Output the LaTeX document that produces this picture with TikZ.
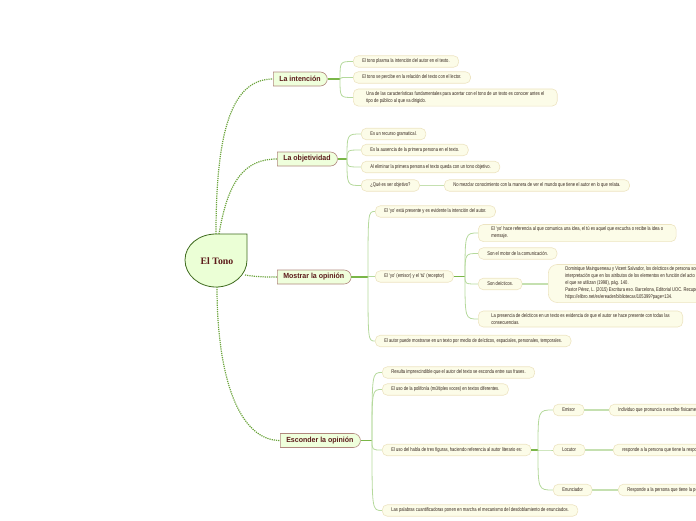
\documentclass[tikz,border=0pt]{standalone}
\usepackage{fontspec}
\usetikzlibrary{shapes.misc}
\setmainfont{Liberation Serif}
\newfontfamily\leaffont[FakeStretch=0.76]{Liberation Sans}
\newfontfamily\mainfont[FakeStretch=0.95]{Liberation Sans}
\definecolor{leaffill}{HTML}{FCFCE8}
\definecolor{leafline}{HTML}{EDE4C2}
\definecolor{leaftext}{HTML}{33241C}
\definecolor{mainfill}{HTML}{EFFFDC}
\definecolor{mainline}{HTML}{B0887E}
\definecolor{maintext}{HTML}{5C1A1A}
\definecolor{rootfill}{HTML}{EBFFD6}
\definecolor{rootline}{HTML}{3F6B1F}
\definecolor{rootc}{HTML}{6AA33A}
\definecolor{trunkc}{HTML}{7AB648}
\definecolor{fanc}{HTML}{B5D99C}
\definecolor{linkc}{HTML}{C5E0B0}
\begin{document}
\begin{tikzpicture}[x=1pt,y=-1pt,
  leaf/.style={draw=leafline, fill=leaffill, rounded corners=5pt, line width=0.6pt,
    font=\leaffont\fontsize{5.4}{7}\selectfont, text=leaftext, inner xsep=9pt,
    inner ysep=2.5pt, minimum height=11.5pt, anchor=west, align=left},
  mainbox/.style={rounded rectangle, rounded rectangle west arc=none, draw=mainline,
    fill=mainfill, font=\mainfont\bfseries\fontsize{7.4}{8.5}\selectfont, text=maintext,
    minimum height=14pt, inner xsep=6pt, anchor=west, line width=0.6pt},
  fan/.style={draw=fanc, line width=0.8pt},
  trunk/.style={draw=trunkc, line width=1.2pt},
  rootlink/.style={draw=rootc, line width=1.2pt, dash pattern=on 1.2pt off 1pt},
  leaflink/.style={draw=linkc, line width=1.6pt}
]
\useasboundingbox (0,0) rectangle (696,520);
\clip (0,0) rectangle (696,520);

% ---------- root ----------
\draw[fill=rootfill, draw=rootline, line width=0.8pt]
  (247,234) -- (247,260) .. controls (247,275) and (233,287) .. (216,287)
  .. controls (199,287) and (185,275) .. (185,260)
  .. controls (185,245) and (199,234) .. (216,234) -- cycle;
\node[font=\bfseries\fontsize{9.8}{11}\selectfont, text=maintext] (root) at (217,261) {El Tono};
\coordinate (rt1) at (216,234);
\coordinate (rt2) at (219,234);
\coordinate (rr) at (245,275);
\coordinate (rb) at (217,287);

% ---------- main nodes ----------
\node[mainbox] (int) at (273,79) {La intención};
\node[mainbox] (obj) at (277,159) {La objetividad};
\node[mainbox] (mos) at (277,277) {Mostrar la opinión};
\node[mainbox] (esc) at (280,440.5) {Esconder la opinión};

\draw[rootlink] (rt1) .. controls (216,130) and (232,79) .. (int.west);
\draw[rootlink] (rt2) .. controls (228,180) and (245,159) .. (obj.west);
\draw[rootlink] (rr) .. controls (258,277) and (265,277) .. (mos.west);
\draw[rootlink] (rb) .. controls (217,380) and (240,440.5) .. (esc.west);

% ---------- La intención ----------
\node[leaf] (i1) at (353,61.5) {El tono plasma la intención del autor en el texto.};
\node[leaf] (i2) at (353,77.5) {El tono se percibe en la relación del texto con el lector.};
\node[leaf, inner xsep=13pt] (i3) at (353,97.5) {Una de las características fundamentales para acertar con el tono de un texto es conocer antes el\\tipo de público al que va dirigido.};
\coordinate (ji) at (340,79);
\draw[trunk] (int.east) -- (ji);
\foreach \c in {i1,i2,i3} \draw[fan] (ji) .. controls (ji|-\c.west) .. (\c.west);

% ---------- La objetividad ----------
\node[leaf] (o1) at (361,134) {Es un recurso gramatical.};
\node[leaf] (o2) at (361,150) {Es la ausencia de la primera persona en el texto.};
\node[leaf] (o3) at (361,167) {Al eliminar la primera persona el texto queda con un tono objetivo.};
\node[leaf] (o4) at (361,185.5) {¿Qué es ser objetivo?};
\node[leaf] (o5) at (444,185.5) {No mezclar conocimiento con la manera de ver el mundo que tiene el autor en lo que relata.};
\coordinate (jo) at (347,159);
\draw[trunk] (obj.east) -- (jo);
\foreach \c in {o1,o2,o3,o4} \draw[fan] (jo) .. controls (jo|-\c.west) .. (\c.west);
\draw[leaflink] (o4.east) -- (o5.west);

% ---------- Mostrar la opinión ----------
\node[leaf] (m1) at (375,211.5) {El ‘yo’ está presente y es evidente la intención del autor.};
\node[leaf] (m2) at (375,276.5) {El ‘yo’ (emisor) y el ‘tú’ (receptor)};
\node[leaf] (m3) at (375,341) {El autor puede mostrarse en un texto por medio de deícticos, espaciales, personales, temporales.};
\coordinate (jm) at (368,277);
\draw[trunk] (mos.east) -- (jm);
\foreach \c in {m1,m2,m3} \draw[fan] (jm) .. controls (jm|-\c.west) .. (\c.west);

\node[leaf, inner xsep=13pt] (n1) at (478,233) {El ‘yo’ hace referencia al que comunica una idea, el tú es aquel que escucha o recibe la idea o\\mensaje.};
\node[leaf] (n2) at (478,253.5) {Son el motor de la comunicación.};
\node[leaf] (n3) at (478,284) {Son deícticos.};
\node[leaf, inner xsep=13pt] (n4) at (478,319) {La presencia de deícticos en un texto es evidencia de que el autor se hace presente con todas las\\consecuencias.};
\node[leaf, inner xsep=17pt, rounded corners=9pt] (cit) at (548,283.5) {Dominique Maingueneau y Vicent Salvador, los deícticos de persona son aquellos cuya\\interpretación que en los atributos de los elementos en función del acto de enunciación en\\el que se utilizan (1998), pág. 140.\\Pastor Pérez, L. (2015) Escritura eso. Barcelona, Editorial UOC. Recuperado de\\https://elibro.net/es/ereader/bibliotecas/105399?page=134.};
\coordinate (jn) at (465,276.5);
\draw[trunk] (m2.east) -- (jn);
\foreach \c in {n1,n2,n3,n4} \draw[fan] (jn) .. controls (jn|-\c.west) .. (\c.west);
\draw[leaflink] (n3.east) -- (cit.west|-n3.east);

% ---------- Esconder la opinión ----------
\node[leaf] (e1) at (382,372.5) {Resulta imprescindible que el autor del texto se esconda entre sus frases.};
\node[leaf] (e2) at (382,389.5) {El uso de la polifonía (múltiples voces) en textos diferentes.};
\node[leaf] (e3) at (382,450) {El uso del habla de tres figuras, haciendo referencia al autor literario es:};
\node[leaf] (e4) at (382,510.5) {Las palabras cuantificadoras ponen en marcha el mecanismo del desdoblamiento de enunciados.};
\coordinate (je) at (372,440.5);
\draw[trunk] (esc.east) -- (je);
\foreach \c in {e1,e2,e3,e4} \draw[fan] (je) .. controls (je|-\c.west) .. (\c.west);

\node[leaf] (f1) at (553,410) {Emisor};
\node[leaf] (f2) at (553,450) {Locutor};
\node[leaf] (f3) at (553,490) {Enunciador};
\coordinate (jf) at (538,450);
\draw[trunk] (e3.east) -- (jf);
\foreach \c in {f1,f2,f3} \draw[fan] (jf) .. controls (jf|-\c.west) .. (\c.west);

\node[leaf] (g1) at (609,410) {Individuo que pronuncia o escribe físicamente el enunciado.};
\node[leaf] (g2) at (613,450) {responde a la persona que tiene la responsabilidad del enunciado.};
\node[leaf] (g3) at (618,490) {Responde a la persona que tiene la perspectiva del enunciado.};
\draw[leaflink] (f1.east) -- (g1.west);
\draw[leaflink] (f2.east) -- (g2.west);
\draw[leaflink] (f3.east) -- (g3.west);
\end{tikzpicture}
\end{document}
